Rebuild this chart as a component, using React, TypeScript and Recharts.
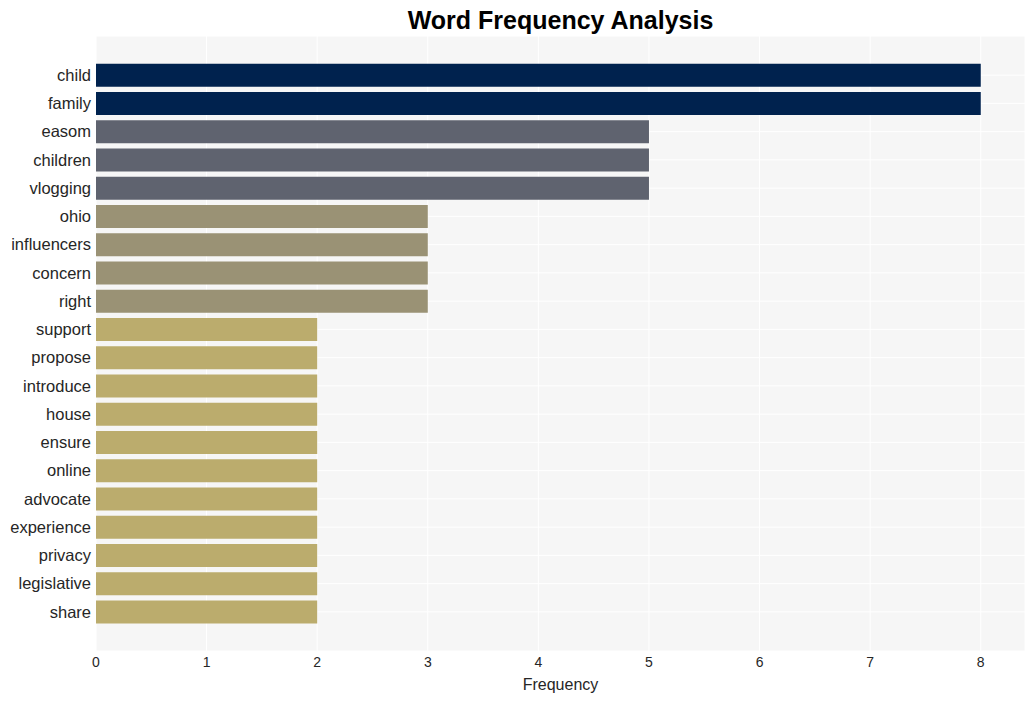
import React from 'react';
import { BarChart, Bar, XAxis, YAxis, CartesianGrid, Cell } from 'recharts';

const words = ['child', 'family', 'easom', 'children', 'vlogging', 'ohio', 'influencers', 'concern', 'right', 'support', 'propose', 'introduce', 'house', 'ensure', 'online', 'advocate', 'experience', 'privacy', 'legislative', 'share'];
const counts = [8, 8, 5, 5, 5, 3, 3, 3, 3, 2, 2, 2, 2, 2, 2, 2, 2, 2, 2, 2];
const xTicks = [0, 1, 2, 3, 4, 5, 6, 7, 8];

const colorFor = (v: number): string => {
  if (v >= 8) return '#00224e';
  if (v >= 5) return '#5f636f';
  if (v >= 3) return '#9a9275';
  return '#bbac6d';
};

const data = words.map((w, i) => ({ word: w, count: counts[i] }));

const FONT = '"Liberation Sans", Arial, Helvetica, sans-serif';

export default function App() {
  return (
    <div style={{ position: 'fixed', left: 0, top: 0, width: 1036, height: 701, background: '#fff', fontFamily: FONT }}>
      <div style={{ position: 'absolute', left: 96, width: 929, top: 4, textAlign: 'center', fontSize: 25, fontWeight: 'bold', color: '#000', lineHeight: '32px' }}>
        Word Frequency Analysis
      </div>
      <BarChart
        width={1036}
        height={701}
        data={data}
        layout="vertical"
        margin={{ top: 36, right: 11, bottom: 0, left: 0 }}
        barCategoryGap="10%"
        style={{ fontFamily: FONT }}
      >
        <CartesianGrid fill="#f6f6f6" stroke="#ffffff" strokeWidth={1} />
        <XAxis
          type="number"
          domain={[0, 8.4]}
          ticks={xTicks}
          allowDataOverflow
          axisLine={false}
          tickLine={false}
          tickSize={0}
          tickMargin={6}
          height={50}
          fontSize={14}
          tick={{ fill: '#262626', fontSize: 14 }}
          label={{ value: 'Frequency', position: 'insideBottom', offset: 11, fill: '#262626', fontSize: 16 }}
        />
        <YAxis
          type="category"
          dataKey="word"
          width={96}
          axisLine={false}
          tickLine={false}
          tickSize={0}
          tickMargin={5}
          interval={0}
          padding={{ top: 25, bottom: 25 }}
          fontSize={16.5}
          tick={{ fill: '#262626', fontSize: 16.5 }}
        />
        <Bar dataKey="count" isAnimationActive={false}>
          {data.map((d, i) => (
            <Cell key={i} fill={colorFor(d.count)} />
          ))}
        </Bar>
      </BarChart>
    </div>
  );
}
